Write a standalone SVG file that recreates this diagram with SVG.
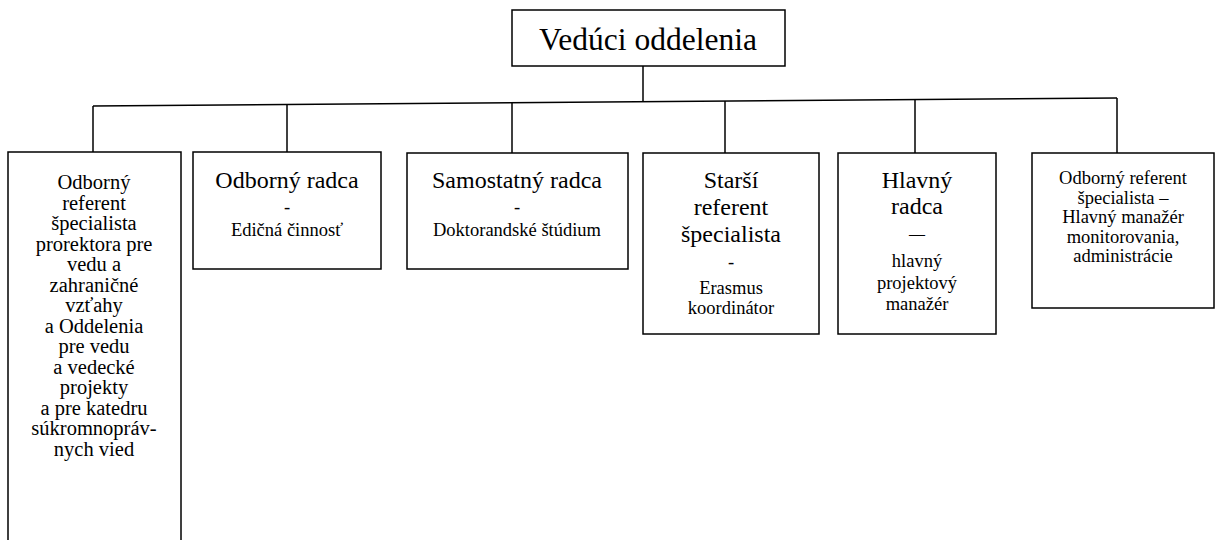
<svg xmlns="http://www.w3.org/2000/svg" width="1216" height="540" viewBox="0 0 1216 540" font-family="'Liberation Serif', serif">
<style>
rect{fill:#fff;stroke:#000;stroke-width:1.5}
.c line{stroke:#000;stroke-width:1.5;fill:none}
text{font-family:'Liberation Serif',serif;fill:#000;text-anchor:middle}
.t{font-size:31.5px}.b{font-size:24px}.m{font-size:20.5px}.s{font-size:18.5px}.d{font-size:16px}
</style>
<g class="c" id="connectors">
<line x1="643" y1="66" x2="643" y2="102"/>
<line x1="93" y1="106" x2="1117" y2="98"/>
<line x1="93" y1="106" x2="93" y2="152"/>
<line x1="287" y1="104.5" x2="287" y2="152"/>
<line x1="512" y1="102.8" x2="512" y2="153"/>
<line x1="725" y1="101.1" x2="725" y2="153"/>
<line x1="915" y1="99.6" x2="915" y2="153"/>
<line x1="1117" y1="98" x2="1117" y2="153"/>
</g>
<g id="n0"><rect x="512" y="10" width="273" height="56"/><text class="t" x="648" y="50">Vedúci oddelenia</text></g>
<g id="n1"><rect x="8" y="152" width="173" height="400"/>
<text class="m" x="94" y="189">Odborný</text>
<text class="m" x="94" y="209.5">referent</text>
<text class="m" x="94" y="230">špecialista</text>
<text class="m" x="94" y="250.5">prorektora pre</text>
<text class="m" x="94" y="271">vedu a</text>
<text class="m" x="94" y="291.5">zahraničné</text>
<text class="m" x="94" y="312">vzťahy</text>
<text class="m" x="94" y="332.5">a Oddelenia</text>
<text class="m" x="94" y="353">pre vedu</text>
<text class="m" x="94" y="373.5">a vedecké</text>
<text class="m" x="94" y="394">projekty</text>
<text class="m" x="94" y="414.5">a pre katedru</text>
<text class="m" x="94" y="435">súkromnopráv-</text>
<text class="m" x="94" y="455.5">nych vied</text>
</g>
<g id="n2"><rect x="193" y="152" width="188" height="117"/>
<text class="b" x="287" y="188">Odborný radca</text>
<text class="s" x="287" y="213">-</text>
<text class="s" x="287" y="236">Edičná činnosť</text>
</g>
<g id="n3"><rect x="407" y="153" width="221" height="116"/>
<text class="b" x="517" y="188">Samostatný radca</text>
<text class="s" x="517" y="213">-</text>
<text class="s" x="517" y="236">Doktorandské štúdium</text>
</g>
<g id="n4"><rect x="643" y="153" width="176" height="181"/>
<text class="b" x="731" y="188">Starší</text>
<text class="b" x="731" y="215">referent</text>
<text class="b" x="731" y="242">špecialista</text>
<text class="s" x="731" y="268">-</text>
<text class="s" x="731" y="294">Erasmus</text>
<text class="s" x="731" y="314">koordinátor</text>
</g>
<g id="n5"><rect x="838" y="153" width="158" height="181"/>
<text class="b" x="917" y="188">Hlavný</text>
<text class="b" x="917" y="214">radca</text>
<text class="d" x="917" y="239">—</text>
<text class="s" x="917" y="267">hlavný</text>
<text class="s" x="917" y="289">projektový</text>
<text class="s" x="917" y="310">manažér</text>
</g>
<g id="n6"><rect x="1032" y="153" width="182" height="155"/>
<text class="s" x="1123" y="184">Odborný referent</text>
<text class="s" x="1123" y="203.5">špecialista –</text>
<text class="s" x="1123" y="223">Hlavný manažér</text>
<text class="s" x="1123" y="242.5">monitorovania,</text>
<text class="s" x="1123" y="262">administrácie</text>
</g>
</svg>
